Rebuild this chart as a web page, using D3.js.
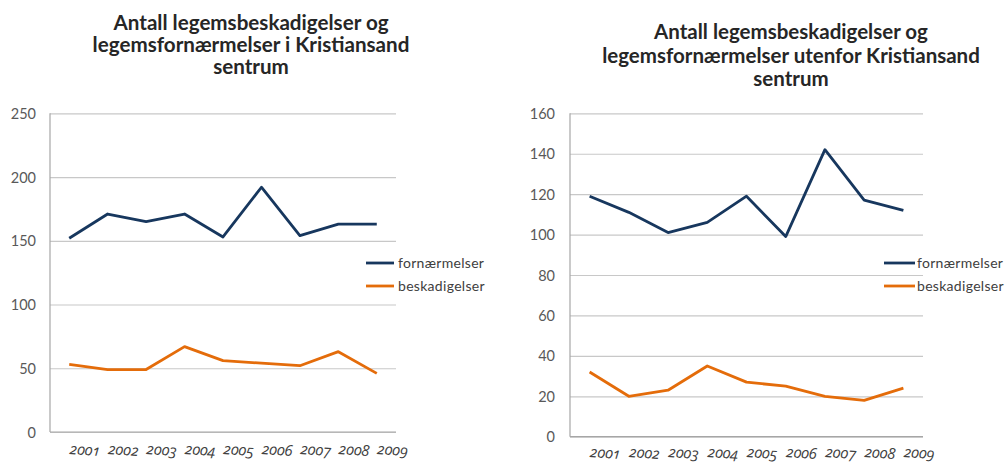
<!DOCTYPE html>
<html><head><meta charset="utf-8">
<script src="https://cdn.jsdelivr.net/npm/d3@7"></script>
<style>
html,body{margin:0;padding:0;background:#fff;}
svg{display:block;}
</style></head>
<body>
<svg id="chart" width="1005" height="463"></svg>
<script>
const years = ["2001","2002","2003","2004","2005","2006","2007","2008","2009"];
const seriesNames = ["fornærmelser","beskadigelser"];
const sentrumFornaermelser = [152,171,165,171,153,192,154,163,163];
const sentrumBeskadigelser = [53,49,49,67,56,54,52,63,46];
const utenforFornaermelser = [119,111,101,106,119,99,142,117,112];
const utenforBeskadigelser = [32,20,23,35,27,25,20,18,24];
const sentrumTicks = [0,50,100,150,200,250];
const utenforTicks = [0,20,40,60,80,100,120,140,160];
const titleSentrum = ["Antall legemsbeskadigelser og","legemsfornærmelser i Kristiansand","sentrum"];
const titleUtenfor = ["Antall legemsbeskadigelser og","legemsfornærmelser utenfor Kristiansand","sentrum"];

const colors = ["#17375E","#E46C0A"];
const svg = d3.select("#chart");

const panels = [
  {title:titleSentrum, s:[sentrumFornaermelser,sentrumBeskadigelser], ticks:sentrumTicks,
   L:50,R:396,T:113.3,B:432, xlab:454, ylabX:36, tc:251, tb:[30,52,74], tw:317,
   lg:[366,394,398], ly:[263,286]},
  {title:titleUtenfor, s:[utenforFornaermelser,utenforBeskadigelser], ticks:utenforTicks,
   L:570,R:923,T:113.3,B:436.7, xlab:457, ylabX:555, tc:791, tb:[39,63,86], tw:378,
   lg:[884,915,917], ly:[263,286]}
];

panels.forEach(p=>{
  const g = svg.append("g");
  const x = d3.scaleBand().domain(years).range([p.L,p.R]);
  const y = d3.scaleLinear().domain([0,d3.max(p.ticks)]).range([p.B,p.T]);

  // gridlines
  const yAxis = d3.axisLeft(y).tickValues(p.ticks).tickSize(-(p.R-p.L)).tickPadding(p.L-p.ylabX);
  const ya = g.append("g").attr("transform",`translate(${p.L},0)`).call(yAxis);
  ya.select(".domain").remove();
  ya.selectAll(".tick line").attr("stroke","#c8c8c8").attr("stroke-width",1.2);
  ya.selectAll(".tick text").attr("fill","#595959").attr("font-family","Lato, 'Open Sans', sans-serif")
    .attr("font-size",14.5).attr("dy","0.35em");
  // axis lines
  g.append("line").attr("x1",p.L).attr("x2",p.L).attr("y1",p.T).attr("y2",p.B).attr("stroke","#a6a6a6").attr("stroke-width",1.2);
  g.append("line").attr("x1",p.L).attr("x2",p.R).attr("y1",p.B).attr("y2",p.B).attr("stroke","#a6a6a6").attr("stroke-width",1.2);

  // x labels
  years.forEach(yr=>{
    const xx = x(yr)+x.bandwidth()/2;
    g.append("text").text(yr)
      .attr("transform",`translate(${xx},${p.xlab}) rotate(4)`)
      .attr("font-family","'Open Sans', Lato, sans-serif").attr("font-style","italic")
      .attr("font-size",15).attr("fill","#404040")
      .style("font-feature-settings","'onum'").style("font-variant-numeric","oldstyle-nums");
  });

  // lines
  const line = d3.line().x((d,i)=>x(years[i])+x.bandwidth()/2).y(d=>y(d));
  p.s.forEach((vals,k)=>{
    g.append("path").datum(vals).attr("d",line).attr("fill","none")
      .attr("stroke",colors[k]).attr("stroke-width",2.8).attr("stroke-linejoin","round");
  });

  // legend
  seriesNames.forEach((nm,k)=>{
    g.append("line").attr("x1",p.lg[0]).attr("x2",p.lg[1]).attr("y1",p.ly[k]).attr("y2",p.ly[k])
      .attr("stroke",colors[k]).attr("stroke-width",2.8);
    g.append("text").text(nm).attr("x",p.lg[2]).attr("y",p.ly[k]).attr("dy","0.35em")
      .attr("font-family","Lato, 'Open Sans', sans-serif").attr("font-size",14).attr("fill","#404040")
      .attr("letter-spacing","0.3px");
  });

  // title
  const tl = [];
  p.title.forEach((t,i)=>{
    const tt = g.append("text").text(t).attr("x",p.tc).attr("y",p.tb[i]).attr("text-anchor","middle")
      .attr("font-family","Lato, 'Open Sans', sans-serif").attr("font-weight","bold")
      .attr("font-size",18).attr("fill","#262626");
    tl.push(tt);
  });
  const n = tl[1].node(); const m = n.getComputedTextLength();
  const fs = 18*p.tw/m;
  tl.forEach(t=>t.attr("font-size",fs));
});
</script>
</body></html>
